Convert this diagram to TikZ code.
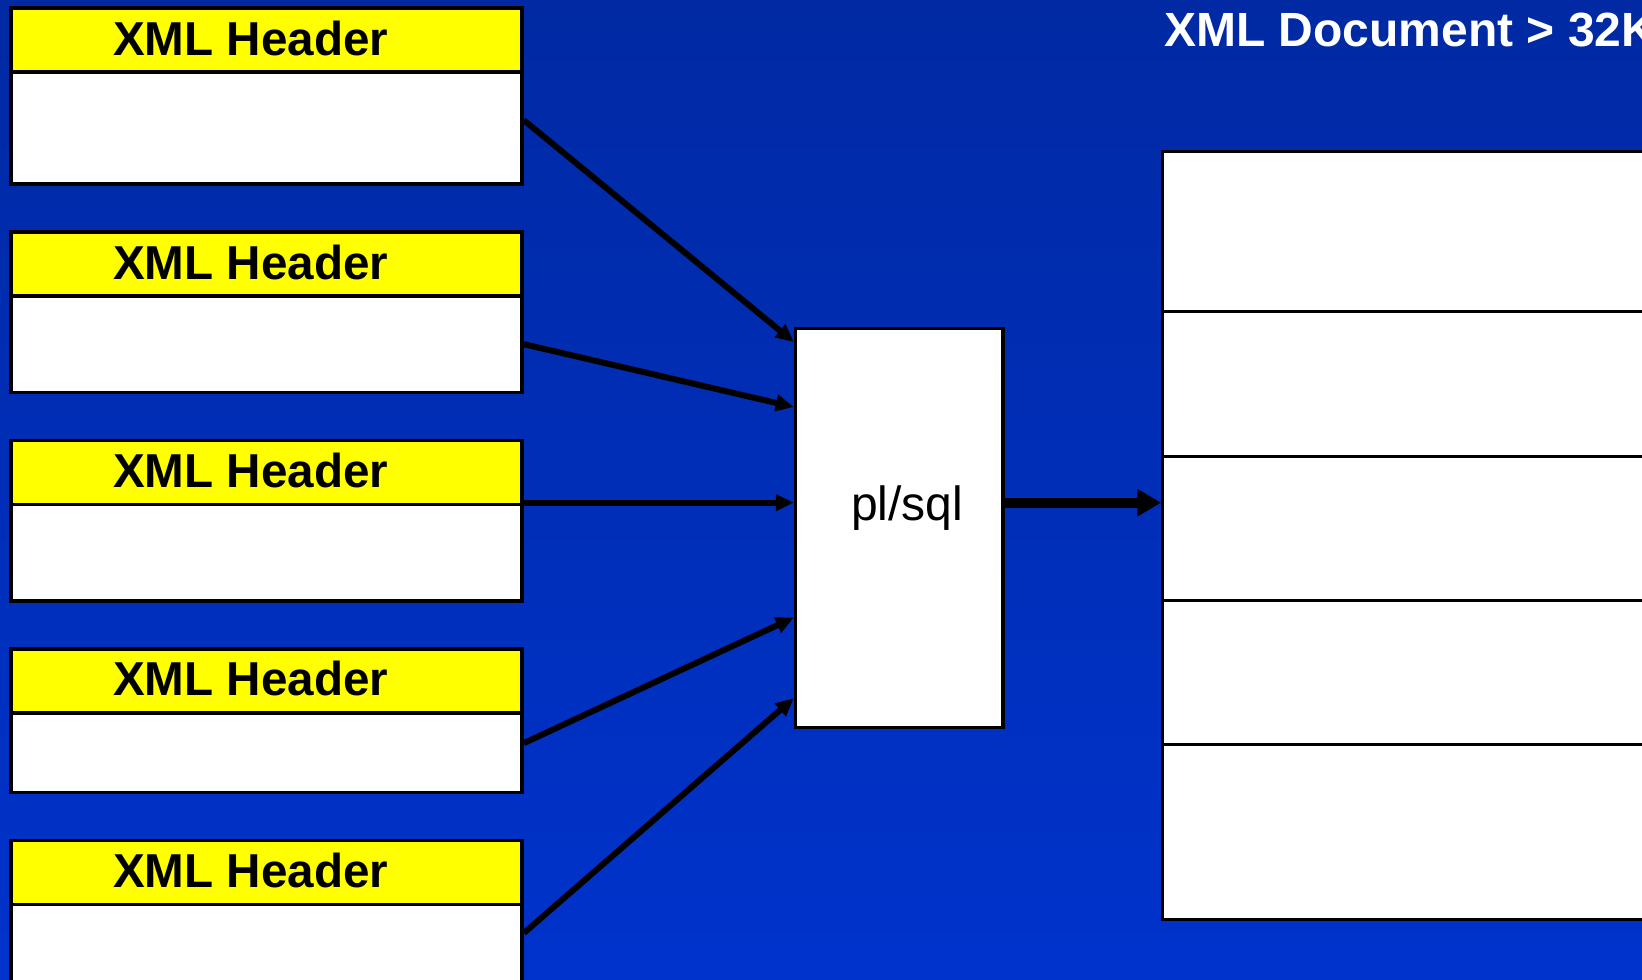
\documentclass[tikz,border=0pt]{standalone}
\usepackage{fontspec}
\setmainfont{Liberation Sans}
\usetikzlibrary{arrows.meta}
\definecolor{bgtop}{RGB}{0,41,163}
\definecolor{bgbot}{RGB}{0,51,204}
\definecolor{hdryellow}{RGB}{255,255,0}
\begin{document}
\begin{tikzpicture}[x=1pt,y=-1pt,
  hdr/.style={draw=black, line width=3.5pt, fill=hdryellow, rectangle, inner sep=0pt,
    minimum width=511pt, minimum height=64pt, anchor=north west},
  body/.style={draw=black, line width=3.5pt, fill=white, rectangle, inner sep=0pt,
    minimum width=511pt, anchor=north west},
  hdrtext/.style={font=\fontsize{47.6}{50}\selectfont\bfseries},
  sect/.style={draw=black, line width=3pt, fill=white, rectangle, inner sep=0pt,
    minimum width=500pt, anchor=north west},
  feed/.style={draw=black, line width=6pt, -{Triangle[length=18pt,width=16pt]}},
  bigfeed/.style={draw=black, line width=10pt, -{Triangle[length=24pt,width=26pt]}}
]
\useasboundingbox (0,0) rectangle (1642,980);
\clip (0,0) rectangle (1642,980);
\fill[top color=bgtop, bottom color=bgbot] (0,0) rectangle (1642,980);

% left boxes
\node[hdr, label={[hdrtext, xshift=-16pt, yshift=2pt]center:XML Header}] (h1) at (9.4,6.3) {};
\node[body, minimum height=112pt] (b1) at (9.4,70.2) {};
\node[hdr, label={[hdrtext, xshift=-16pt, yshift=2pt]center:XML Header}] (h2) at (9.4,230.4) {};
\node[body, minimum height=96.3pt] (b2) at (9.4,294.3) {};
\node[hdr, label={[hdrtext, xshift=-16pt, yshift=2pt]center:XML Header}] (h3) at (9.4,438.8) {};
\node[body, minimum height=96.3pt] (b3) at (9.4,502.7) {};
\node[hdr, label={[hdrtext, xshift=-16pt, yshift=2pt]center:XML Header}] (h4) at (9.4,647.2) {};
\node[body, minimum height=79.5pt] (b4) at (9.4,711.1) {};
\node[hdr, label={[hdrtext, xshift=-16pt, yshift=2pt]center:XML Header}] (h5) at (9.4,838.8) {};
\node[body, minimum height=120pt] (b5) at (9.4,902.7) {};

% pl/sql box
\node[draw=black, line width=3.5pt, fill=white, rectangle, inner sep=0pt,
  minimum width=207.3pt, minimum height=399pt, anchor=north west,
  label={[anchor=base, xshift=8pt, yshift=20pt, font=\fontsize{48}{50}\selectfont]center:pl/sql}]
  (p) at (793.8,326.7) {};

% right stack
\node[sect, minimum height=160.2pt] (s1) at (1161.3,149.8) {};
\node[sect, minimum height=144.5pt] (s2) at (1161.3,310) {};
\node[sect, minimum height=144.5pt] (s3) at (1161.3,454.5) {};
\node[sect, minimum height=143.5pt] (s4) at (1161.3,599) {};
\node[sect, minimum height=175.9pt] (s5) at (1161.3,742.5) {};

% title
\node[anchor=base west, inner sep=0pt, text=white, font=\fontsize{48}{50}\selectfont\bfseries]
  (title) at (1164,46) {XML Document > 32K};

% connectors
\draw[feed] ([yshift=7.7pt]b1.east) -- ([yshift=185.9pt]p.west);
\draw[feed] (b2.east) -- ([yshift=120.9pt]p.west);
\draw[feed] (b3.north east) -- (p.west |- b3.north);
\draw[feed] ([yshift=9.5pt]b4.east) -- ([yshift=-89.6pt]p.west);
\draw[feed] ([yshift=-30.3pt]b5.north east) -- ([yshift=-170.2pt]p.west);
\draw[bigfeed] (p.east |- b3.north) -- (s3.west |- b3.north);
\end{tikzpicture}
\end{document}
